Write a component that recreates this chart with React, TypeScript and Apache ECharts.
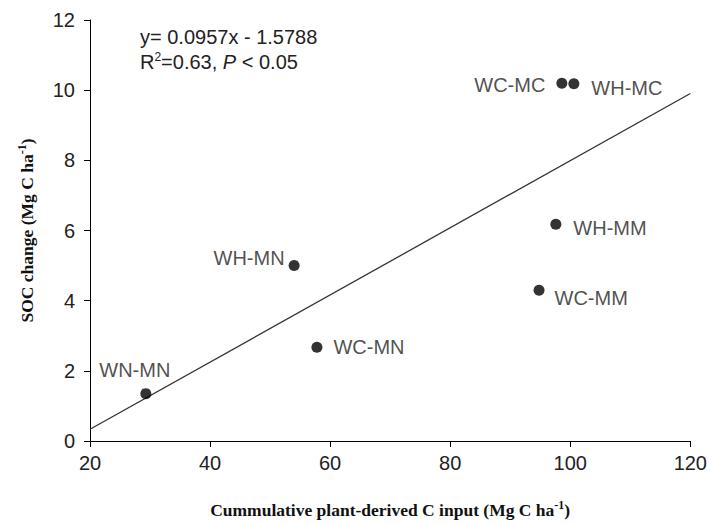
import React, { useEffect, useRef } from "react";
import * as echarts from "echarts";

const treatments = ["WN-MN", "WH-MN", "WC-MN", "WC-MM", "WH-MM", "WC-MC", "WH-MC"];
const cInput = [29.3, 54.0, 57.8, 94.8, 97.6, 98.6, 100.6];
const socChange = [1.35, 5.0, 2.67, 4.3, 6.18, 10.2, 10.18];
const fitSlope = 0.0957;
const fitIntercept = -1.5788;
const fitRange = [20, 120];

const labelLayout: Record<string, any> = {
  "WN-MN": { position: "top", distance: 8, offset: [-11, 0] },
  "WH-MN": { position: "left", distance: 4, offset: [0, -8] },
  "WC-MN": { position: "right", distance: 11, offset: [0, 0] },
  "WC-MM": { position: "right", distance: 10, offset: [0, 8] },
  "WH-MM": { position: "right", distance: 12, offset: [0, 4] },
  "WC-MC": { position: "left", distance: 11, offset: [0, 2] },
  "WH-MC": { position: "right", distance: 12, offset: [0, 4] },
};

export default function App() {
  const ref = useRef<HTMLDivElement>(null);
  useEffect(() => {
    if (!ref.current) return;
    const chart = echarts.init(ref.current, null, { renderer: "svg" });
    const points = treatments.map((n, i) => ({
      name: n,
      value: [cInput[i], socChange[i]],
      label: labelLayout[n],
    }));
    const fit = fitRange.map((x) => [x, fitSlope * x + fitIntercept]);
    const font = "Liberation Sans, Arial, sans-serif";
    const serif = "Liberation Serif, Times New Roman, serif";
    const titleStyle = {
      fontFamily: serif,
      fontWeight: "bold",
      fontSize: 17.5,
      color: "#111",
      rich: {
        sup: { fontFamily: serif, fontWeight: "bold", fontSize: 12, color: "#111", padding: [0, 0, 10, 0] },
      },
    };
    chart.setOption({
      animation: false,
      backgroundColor: "#fff",
      grid: { left: 90, right: 18, top: 20, bottom: 83 },
      xAxis: {
        type: "value",
        min: 20,
        max: 120,
        interval: 20,
        splitLine: { show: false },
        axisLine: { lineStyle: { color: "#000", width: 1 } },
        axisTick: { show: true, length: 6, lineStyle: { color: "#000" } },
        axisLabel: { fontFamily: font, fontSize: 20, color: "#222", margin: 12 },
        name: "Cummulative plant-derived C input (Mg C ha{sup|-1})",
        nameLocation: "middle",
        nameGap: 58,
        nameTextStyle: titleStyle,
      },
      yAxis: {
        type: "value",
        min: 0,
        max: 12,
        interval: 2,
        splitLine: { show: false },
        axisLine: { show: true, lineStyle: { color: "#000", width: 1 } },
        axisTick: { show: true, length: 6, lineStyle: { color: "#000" } },
        axisLabel: { fontFamily: font, fontSize: 20, color: "#222", margin: 15 },
        name: "SOC change (Mg C ha{sup|-1})",
        nameLocation: "middle",
        nameGap: 52,
        nameTextStyle: titleStyle,
      },
      graphic: [
        {
          type: "text",
          x: 140,
          y: 37,
          style: {
            text: "y= 0.0957x - 1.5788",
            font: `20px ${font}`,
            fill: "#222",
            verticalAlign: "middle",
          },
        },
        {
          type: "text",
          x: 140,
          y: 62,
          style: {
            text: "R{sup|2}=0.63, {it|P} < 0.05",
            font: `20px ${font}`,
            fill: "#222",
            verticalAlign: "middle",
            rich: {
              sup: { fontFamily: font, fontSize: 12, fill: "#222", padding: [0, 0, 10, 0] },
              it: { fontFamily: font, fontSize: 20, fontStyle: "italic", fill: "#222" },
            },
          },
        },
      ],
      series: [
        {
          type: "line",
          data: fit,
          showSymbol: false,
          symbol: "none",
          lineStyle: { color: "#333", width: 1.3 },
          silent: true,
          z: 1,
        },
        {
          type: "scatter",
          data: points,
          symbol: "circle",
          symbolSize: 11,
          itemStyle: { color: "#000" },
          label: {
            show: true,
            formatter: "{b}",
            fontFamily: font,
            fontSize: 20,
            color: "#222",
          },
          z: 3,
        },
      ],
    });
    return () => chart.dispose();
  }, []);
  return (
    <div
      ref={ref}
      style={{ position: "absolute", left: 0, top: 0, width: 710, height: 524 }}
    />
  );
}
